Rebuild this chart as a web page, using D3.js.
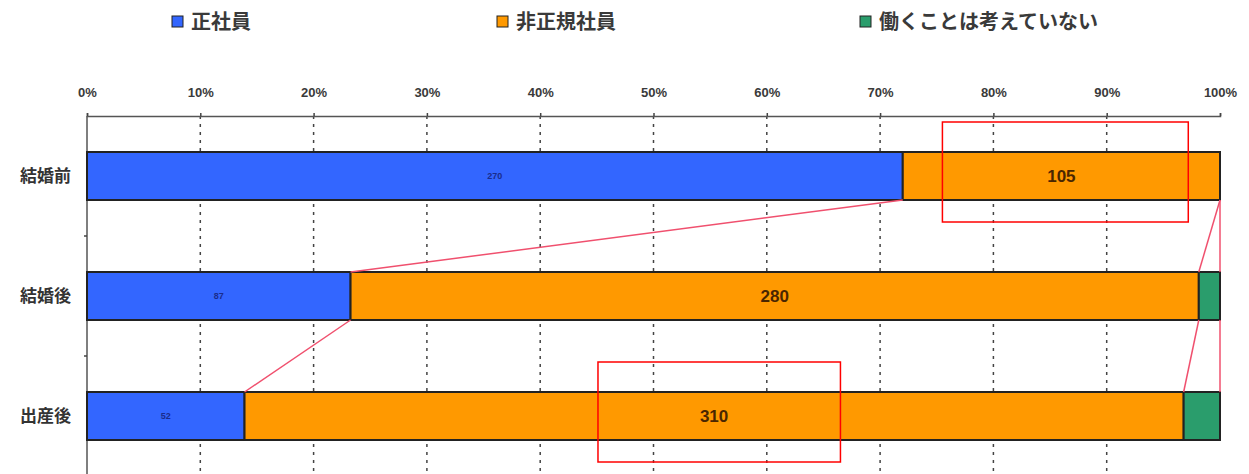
<html>

<head>
    <meta charset="utf-8">
    <title>就業形態の変化</title>

    <style>
        body {
            padding: 0;
            margin: 0;
            background: white;
            font-family: "Noto Sans CJK JP", sans-serif;
        }

        .grid line {
            stroke: #444;
            stroke-width: 1.5;
            stroke-dasharray: 3, 5;
        }

        .bar {
            stroke: #222;
            stroke-width: 2;
        }

        .link {
            stroke: #f0506e;
            stroke-width: 1.5;
            fill: none;
        }

        .highlight {
            stroke: #ff0000;
            stroke-width: 1.5;
            fill: none;
        }
    </style>
</head>

<body>

    <div id="chart"></div>

    <script src="https://d3js.org/d3.v7.min.js"></script>

    <script>
        // data (respondent counts)
        var categories = ["結婚前", "結婚後", "出産後"];
        var seriesNames = ["正社員", "非正規社員", "働くことは考えていない"];
        var seishain = [270, 87, 52];
        var hiseiki = [105, 280, 310];
        var notWorking = [0, 7, 12];
        var tickValues = [0, .1, .2, .3, .4, .5, .6, .7, .8, .9, 1];

        // the two red boxes drawn on the original figure (category, share from/to)
        var highlights = [
            { cat: "結婚前", from: 0.755, to: 0.972 },
            { cat: "出産後", from: 0.451, to: 0.665 }
        ];

        var colors = ["#3366ff", "#ff9900", "#2a9d6c"];
        var legendX = [172, 497, 860];

        var width = 1249,
            height = 474,
            margin = { top: 116, left: 87, right: 29, bottom: -2 };

        var svg = d3.select("#chart")
            .append("svg")
            .attr("width", width)
            .attr("height", height);

        var rows = categories.map(function (c, i) {
            return { cat: c, a: seishain[i], b: hiseiki[i], c: notWorking[i] };
        });

        var stack = d3.stack()
            .keys(["a", "b", "c"])
            .offset(d3.stackOffsetExpand);
        var layers = stack(rows);

        var x = d3.scaleLinear()
            .domain([0, 1])
            .range([margin.left, width - margin.right]);

        var y = d3.scaleBand()
            .domain(categories)
            .range([margin.top, height - margin.bottom])
            .paddingInner(0.6)
            .paddingOuter(0.3);

        var bw = y.bandwidth();

        // dotted grid
        svg.append("g")
            .attr("class", "grid")
            .selectAll("line")
            .data(tickValues.filter(function (d) { return d > 0 && d < 1; }))
            .enter()
            .append("line")
            .attr("x1", function (d) { return x(d); })
            .attr("x2", function (d) { return x(d); })
            .attr("y1", margin.top)
            .attr("y2", height);

        // top axis
        var xAxis = svg.append("g")
            .attr("transform", "translate(0," + margin.top + ")")
            .call(d3.axisTop(x)
                .tickValues(tickValues)
                .tickFormat(d3.format(".0%"))
                .tickSizeInner(3)
                .tickSizeOuter(3)
                .tickPadding(16));
        xAxis.select(".domain").attr("stroke", "#555").attr("stroke-width", 1.5);
        xAxis.selectAll(".tick line").attr("stroke", "#444").attr("stroke-width", 1.5);
        xAxis.selectAll("text")
            .attr("font-family", "'Liberation Sans', Arial, sans-serif")
            .attr("font-size", 13)
            .attr("font-weight", "bold")
            .attr("fill", "#3a3a3a");

        // left axis line with ticks between categories
        svg.append("line")
            .attr("x1", x(0)).attr("x2", x(0))
            .attr("y1", margin.top).attr("y2", height)
            .attr("stroke", "#555")
            .attr("stroke-width", 1.5);

        svg.append("g")
            .selectAll("line")
            .data(categories)
            .enter()
            .append("line")
            .attr("x1", x(0) - 3)
            .attr("x2", x(0))
            .attr("y1", function (d) { return y(d) + bw + (y.step() - bw) / 2; })
            .attr("y2", function (d) { return y(d) + bw + (y.step() - bw) / 2; })
            .attr("stroke", "#444")
            .attr("stroke-width", 1.5);

        // category labels
        svg.append("g")
            .selectAll("text")
            .data(categories)
            .enter()
            .append("text")
            .attr("x", 71)
            .attr("y", function (d) { return y(d) + bw / 2; })
            .attr("dy", "0.35em")
            .attr("text-anchor", "end")
            .attr("font-size", 17)
            .attr("font-weight", "bold")
            .attr("fill", "#333")
            .text(function (d) { return d; });

        // bars
        var layerG = svg.append("g")
            .selectAll("g")
            .data(layers)
            .enter()
            .append("g")
            .attr("fill", function (d, i) { return colors[i]; });

        layerG.selectAll("rect")
            .data(function (d) { return d.filter(function (s) { return s[1] - s[0] > 0; }); })
            .enter()
            .append("rect")
            .attr("class", "bar")
            .attr("x", function (d) { return x(d[0]); })
            .attr("y", function (d) { return y(d.data.cat); })
            .attr("width", function (d) { return x(d[1]) - x(d[0]); })
            .attr("height", bw);

        // value labels (only the two big series carry them)
        layerG.filter(function (d, i) { return i < 2; })
            .selectAll("text")
            .data(function (d, i) { return d.map(function (s) { return { s: s, k: i }; }); })
            .enter()
            .append("text")
            .attr("x", function (d) { return (x(d.s[0]) + x(d.s[1])) / 2; })
            .attr("y", function (d) { return y(d.s.data.cat) + bw / 2; })
            .attr("dy", "0.35em")
            .attr("text-anchor", "middle")
            .attr("font-family", "'Liberation Sans', Arial, sans-serif")
            .attr("font-size", function (d) { return d.k === 0 ? 9 : 17; })
            .attr("font-weight", "bold")
            .attr("fill", function (d) { return d.k === 0 ? "#1a2c8c" : "#4a2600"; })
            .text(function (d) { return d.k === 0 ? d.s.data.a : d.s.data.b; });

        // series lines between consecutive bars
        var links = [];
        layers.forEach(function (layer) {
            for (var i = 0; i < layer.length - 1; i++) {
                links.push({ x1: layer[i][1], c1: layer[i].data.cat, x2: layer[i + 1][1], c2: layer[i + 1].data.cat });
            }
        });

        svg.append("g")
            .selectAll("line")
            .data(links)
            .enter()
            .append("line")
            .attr("class", "link")
            .attr("x1", function (d) { return x(d.x1); })
            .attr("y1", function (d) { return y(d.c1) + bw; })
            .attr("x2", function (d) { return x(d.x2); })
            .attr("y2", function (d) { return y(d.c2); });

        // red boxes
        svg.append("g")
            .selectAll("rect")
            .data(highlights)
            .enter()
            .append("rect")
            .attr("class", "highlight")
            .attr("x", function (d) { return x(d.from); })
            .attr("y", function (d) { return y(d.cat) - 30; })
            .attr("width", function (d) { return x(d.to) - x(d.from); })
            .attr("height", bw + 52);

        // legend
        var legend = svg.append("g")
            .selectAll("g")
            .data(seriesNames)
            .enter()
            .append("g")
            .attr("transform", function (d, i) { return "translate(" + legendX[i] + ",16)"; });

        legend.append("rect")
            .attr("width", 11)
            .attr("height", 11)
            .attr("fill", function (d, i) { return colors[i]; })
            .attr("stroke", "#222")
            .attr("stroke-width", 1);

        legend.append("text")
            .attr("x", 19)
            .attr("y", 6)
            .attr("dy", "0.35em")
            .attr("font-size", 20)
            .attr("font-weight", "bold")
            .attr("fill", "#3a3a3a")
            .text(function (d) { return d; });
    </script>
</body>

</html>
